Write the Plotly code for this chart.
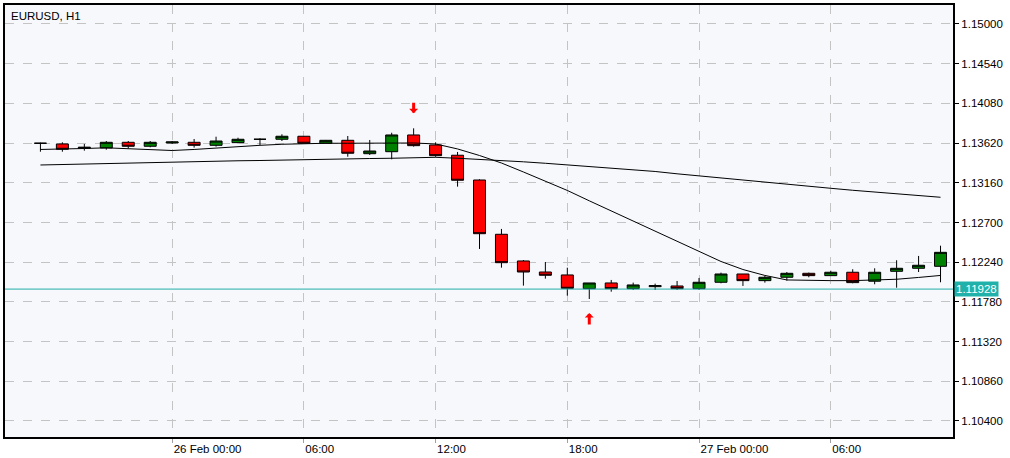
import plotly.graph_objects as go

# ---------------- data ----------------
times = [
    "2019-02-25 18:00", "2019-02-25 19:00", "2019-02-25 20:00", "2019-02-25 21:00",
    "2019-02-25 22:00", "2019-02-25 23:00",
    "2019-02-26 00:00", "2019-02-26 01:00", "2019-02-26 02:00", "2019-02-26 03:00",
    "2019-02-26 04:00", "2019-02-26 05:00", "2019-02-26 06:00", "2019-02-26 07:00",
    "2019-02-26 08:00", "2019-02-26 09:00", "2019-02-26 10:00", "2019-02-26 11:00",
    "2019-02-26 12:00", "2019-02-26 13:00", "2019-02-26 14:00", "2019-02-26 15:00",
    "2019-02-26 16:00", "2019-02-26 17:00", "2019-02-26 18:00", "2019-02-26 19:00",
    "2019-02-26 20:00", "2019-02-26 21:00", "2019-02-26 22:00", "2019-02-26 23:00",
    "2019-02-27 00:00", "2019-02-27 01:00", "2019-02-27 02:00", "2019-02-27 03:00",
    "2019-02-27 04:00", "2019-02-27 05:00", "2019-02-27 06:00", "2019-02-27 07:00",
    "2019-02-27 08:00", "2019-02-27 09:00", "2019-02-27 10:00", "2019-02-27 11:00",
]
opens = [
    1.13618, 1.13610, 1.13560, 1.13563, 1.13629, 1.13583,
    1.13621, 1.13629, 1.13594, 1.13625, 1.13664, 1.13664, 1.13699, 1.13618,
    1.13652, 1.13497, 1.13520, 1.13714, 1.13598, 1.13479, 1.13192, 1.12563,
    1.12254, 1.12126, 1.12092, 1.11933, 1.11999, 1.11933, 1.11956, 1.11964,
    1.11933, 1.12007, 1.12103, 1.12026, 1.12065, 1.12111, 1.12084, 1.12123,
    1.12019, 1.12134, 1.12169, 1.12192,
]
highs = [
    1.13625, 1.13629, 1.13610, 1.13644, 1.13644, 1.13644,
    1.13644, 1.13667, 1.13694, 1.13682, 1.13676, 1.13722, 1.13702, 1.13656,
    1.13702, 1.13656, 1.13740, 1.13791, 1.13629, 1.13517, 1.13200, 1.12625,
    1.12265, 1.12242, 1.12176, 1.11999, 1.12034, 1.12003, 1.11991, 1.12022,
    1.12057, 1.12119, 1.12103, 1.12080, 1.12126, 1.12119, 1.12141, 1.12158,
    1.12169, 1.12262, 1.12312, 1.12431,
]
lows = [
    1.13520, 1.13520, 1.13532, 1.13543, 1.13560, 1.13571,
    1.13610, 1.13567, 1.13579, 1.13618, 1.13598, 1.13644, 1.13618, 1.13618,
    1.13462, 1.13482, 1.13432, 1.13579, 1.13462, 1.13115, 1.12393, 1.12176,
    1.11968, 1.12049, 1.11852, 1.11813, 1.11898, 1.11918, 1.11918, 1.11918,
    1.11918, 1.11995, 1.11964, 1.12003, 1.12026, 1.12065, 1.12084, 1.11995,
    1.11984, 1.11944, 1.12126, 1.12007,
]
closes = [
    1.13618, 1.13548, 1.13571, 1.13629, 1.13583, 1.13629,
    1.13633, 1.13594, 1.13644, 1.13664, 1.13664, 1.13699, 1.13618, 1.13652,
    1.13502, 1.13528, 1.13714, 1.13590, 1.13474, 1.13189, 1.12570, 1.12234,
    1.12126, 1.12088, 1.11937, 1.11999, 1.11933, 1.11976, 1.11968, 1.11933,
    1.12007, 1.12103, 1.12026, 1.12065, 1.12111, 1.12084, 1.12123, 1.12003,
    1.12123, 1.12169, 1.12204, 1.12354,
]
fast_ma = [
    1.13546, 1.13548, 1.13557, 1.13565, 1.13557, 1.13546,
    1.13534, 1.13546, 1.13563, 1.13581, 1.13594, 1.13606, 1.13615, 1.13618,
    1.13618, 1.13618, 1.13618, 1.13621, 1.13610, 1.13552, 1.13476, 1.13389,
    1.13285, 1.13181, 1.13071, 1.12951, 1.12833, 1.12714, 1.12596, 1.12477,
    1.12358, 1.12248, 1.12155, 1.12086, 1.12034, 1.12026, 1.12026, 1.12026,
    1.12030, 1.12042, 1.12063, 1.12086,
]
slow_ma = [
    1.13366, 1.13372, 1.13374, 1.13380, 1.13386, 1.13395,
    1.13403, 1.13407, 1.13410, 1.13415, 1.13418, 1.13424, 1.13430, 1.13432,
    1.13438, 1.13441, 1.13444, 1.13447, 1.13455, 1.13444, 1.13432, 1.13418,
    1.13403, 1.13386, 1.13368, 1.13351, 1.13331, 1.13311, 1.13291, 1.13264,
    1.13239, 1.13212, 1.13187, 1.13163, 1.13140, 1.13117, 1.13096, 1.13073,
    1.13053, 1.13030, 1.13009, 1.12992,
]
current_price = 1.11928
sell_signal_time = ["2019-02-26 11:00"]
sell_signal_price = [1.13791]
buy_signal_time = ["2019-02-26 19:00"]
buy_signal_price = [1.11813]

y_ticks = [1.10400, 1.10860, 1.11320, 1.11780, 1.12240, 1.12700,
           1.13160, 1.13620, 1.14080, 1.14540, 1.15000]
x_tick_vals = ["2019-02-26 00:00", "2019-02-26 06:00", "2019-02-26 12:00",
               "2019-02-26 18:00", "2019-02-27 00:00", "2019-02-27 06:00"]
x_tick_text = ["26 Feb 00:00", "06:00", "12:00", "18:00", "27 Feb 00:00", "06:00"]
title_text = "EURUSD, H1"

# ---------------- figure ----------------
FONT = "Liberation Sans"
fig = go.Figure()

fig.add_trace(go.Scatter(x=times, y=slow_ma, mode="lines",
                         line=dict(color="black", width=1), hoverinfo="skip",
                         showlegend=False))
fig.add_trace(go.Scatter(x=times, y=fast_ma, mode="lines",
                         line=dict(color="black", width=1), hoverinfo="skip",
                         showlegend=False))
fig.add_trace(go.Candlestick(
    x=times, open=opens, high=highs, low=lows, close=closes,
    increasing=dict(fillcolor="#008000", line=dict(color="black", width=1)),
    decreasing=dict(fillcolor="#FF0000", line=dict(color="black", width=1)),
    whiskerwidth=0, showlegend=False,
))

fig.add_hline(y=current_price, line=dict(color="#1FAFA8", width=1))

fig.add_annotation(xref="paper", x=1, xanchor="left", xshift=1,
                   y=current_price, yanchor="middle",
                   text=f"{current_price:.5f}", showarrow=False,
                   bgcolor="#20B2AA", borderpad=1,
                   font=dict(family=FONT, size=11.5, color="white"))

for t, p in zip(sell_signal_time, sell_signal_price):
    fig.add_annotation(x=t, y=p, ax=0, ay=-27, standoff=15,
                       showarrow=True, arrowhead=1, arrowsize=0.5,
                       arrowwidth=3, arrowcolor="#FF0000", text="")
for t, p in zip(buy_signal_time, buy_signal_price):
    fig.add_annotation(x=t, y=p, ax=0, ay=27, standoff=14,
                       showarrow=True, arrowhead=1, arrowsize=0.5,
                       arrowwidth=3, arrowcolor="#FF0000", text="")

fig.add_annotation(xref="paper", yref="paper", x=0, y=1, xanchor="left",
                   yanchor="top", xshift=4, yshift=-3, text=title_text,
                   showarrow=False, font=dict(family=FONT, size=11.5, color="black"))

fig.update_layout(
    width=1010, height=458,
    margin=dict(l=3, r=57, t=5, b=21),
    paper_bgcolor="white", plot_bgcolor="#F7F8FC",
    font=dict(family=FONT, size=11.5, color="black"),
    boxgap=0.22,
    showlegend=False,
)
fig.update_xaxes(
    type="date",
    range=["2019-02-25 16:23:10", "2019-02-27 11:34:05"],
    rangeslider=dict(visible=False),
    tickvals=x_tick_vals, ticktext=x_tick_text,
    ticklabelposition="outside right",
    ticks="outside", ticklen=4, tickcolor="#A0A0A0",
    showgrid=True, gridcolor="#C4C4C4", griddash="dash", gridwidth=1,
    showline=True, linecolor="black", linewidth=2, mirror=True,
    zeroline=False,
)
fig.update_yaxes(
    side="right",
    range=[1.10214, 1.15220],
    tickvals=y_ticks, ticktext=[f"{v:.5f}" for v in y_ticks],
    ticks="outside", ticklen=4, tickcolor="black",
    showgrid=True, gridcolor="#C4C4C4", griddash="dash", gridwidth=1,
    showline=True, linecolor="black", linewidth=2, mirror=True,
    zeroline=False,
)

fig.write_html("out.html",
               config={"displayModeBar": False},
               post_script="document.body.style.margin='0px';"
                           "document.body.style.overflow='hidden';")
